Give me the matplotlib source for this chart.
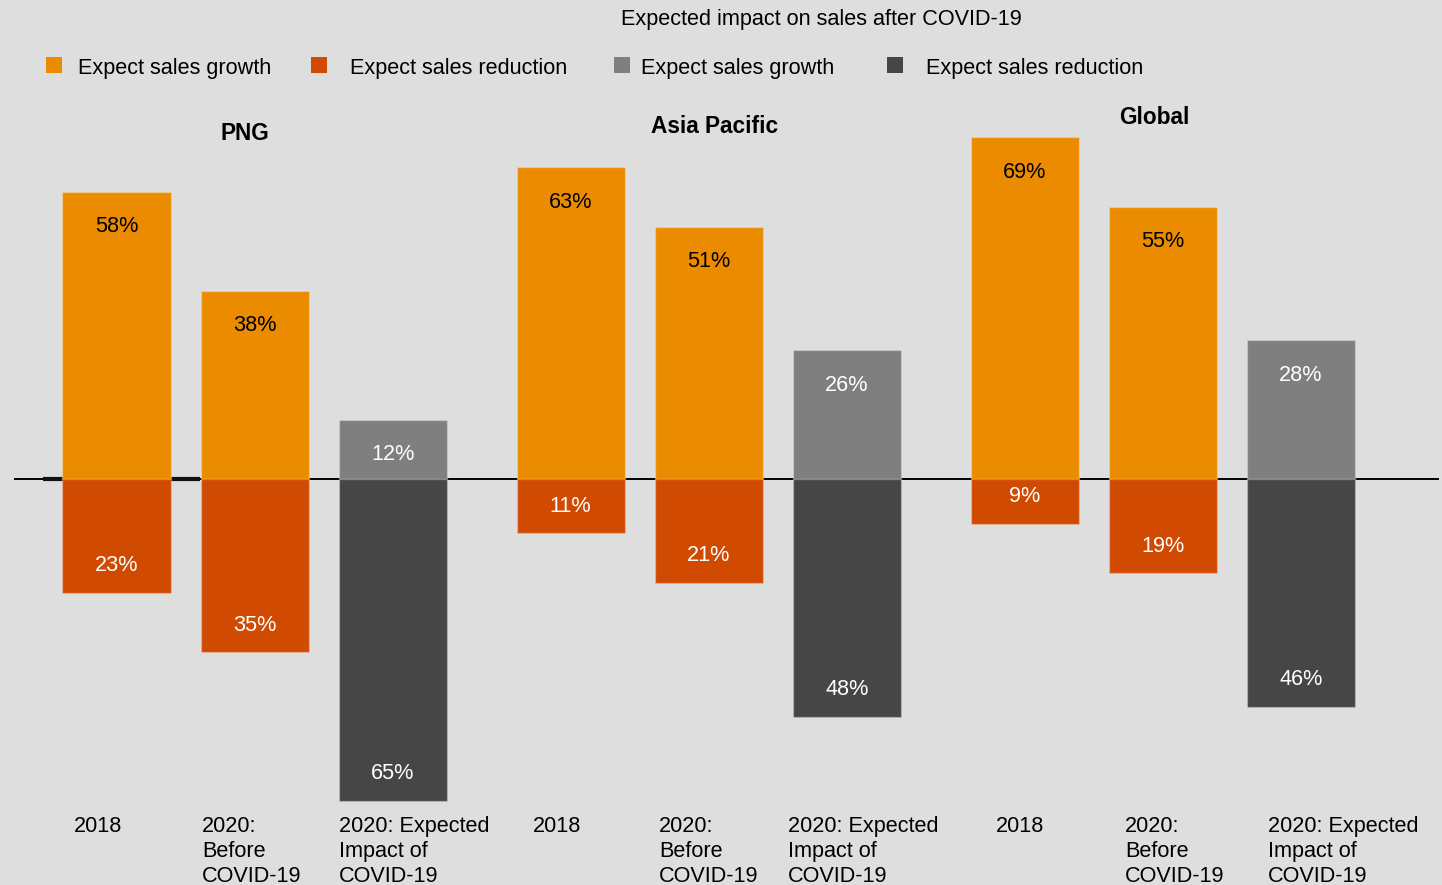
import matplotlib
matplotlib.use("Agg")
import matplotlib.pyplot as plt
from matplotlib.patches import Rectangle

plt.rcParams["font.family"] = ["Liberation Sans", "DejaVu Sans"]

# ---- data -------------------------------------------------------------
title = "Expected impact on sales after COVID-19"
regions = ["PNG", "Asia Pacific", "Global"]
periods = ["2018", "2020:\nBefore\nCOVID-19", "2020: Expected\nImpact of\nCOVID-19"]
growth_pct = [[58, 38, 12], [63, 51, 26], [69, 55, 28]]
reduction_pct = [[23, 35, 65], [11, 21, 48], [9, 19, 46]]
legend_labels = ["Expect sales growth", "Expect sales reduction",
                 "Expect sales growth", "Expect sales reduction"]

# ---- style ------------------------------------------------------------
ORANGE, RED, GREY, DARK = "#EB8C00", "#D04A02", "#7F7F7F", "#464646"
BG = "#DEDEDE"
growth_colors = [ORANGE, ORANGE, GREY]
reduction_colors = [RED, RED, DARK]
growth_text = ["black", "black", "white"]

W, H, DPI = 1442, 885, 100
FS = 15.6

# layout (pixels)
step_px = 138.25          # distance between bar centres inside a group
group_step = 454 / step_px
first_center_px = 116.5
bar_width = 108 / step_px
baseline_px = 479          # from top
px_per_pct = 4.95
line_step_px = 25

fig = plt.figure(figsize=(W / DPI, H / DPI), dpi=DPI, facecolor=BG)
ax = fig.add_axes([0, 0, 1, 1])
ax.set_facecolor(BG)
ax.set_xlim(-first_center_px / step_px, (W - first_center_px) / step_px)
ax.set_ylim(-(H - baseline_px) / px_per_pct, baseline_px / px_per_pct)
ax.axis("off")


def fx(px):
    return px / W


def fy(py):
    return 1 - py / H


# zero line
ax.axhline(0, xmin=fx(15), xmax=fx(1438), color="black", lw=1.4, zorder=1)
ax.plot([(43 - first_center_px) / step_px, (200 - first_center_px) / step_px],
        [0, 0], color="#111111", lw=3, zorder=1, solid_capstyle="butt")

# bars and value labels
for g, region in enumerate(regions):
    xs = [g * group_step + i for i in range(len(periods))]
    ax.bar(xs, growth_pct[g], width=bar_width, color=growth_colors,
           edgecolor=(1, 1, 1, 0.25), linewidth=1, zorder=2)
    ax.bar(xs, [-v for v in reduction_pct[g]], width=bar_width,
           color=reduction_colors, edgecolor=(1, 1, 1, 0.25), linewidth=1, zorder=2)
    for i, x in enumerate(xs):
        gv = growth_pct[g][i]
        rv = reduction_pct[g][i]
        ax.annotate(f"{gv}%", xy=(x, gv), xytext=(0, -35), textcoords="offset pixels",
                    ha="center", va="center", fontsize=FS, color=growth_text[i], zorder=3)
        ax.annotate(f"{rv}%", xy=(x, -rv), xytext=(0, 27), textcoords="offset pixels",
                    ha="center", va="center", fontsize=FS, color="white", zorder=3)

# title
fig.text(fx(821.5), fy(25), title, ha="center", va="baseline", fontsize=FS)

# legend
legend_square_px = [46, 311, 614, 887]
legend_text_px = [78, 350, 641, 926]
legend_colors = [ORANGE, RED, GREY, DARK]
for sx, tx, lab, col in zip(legend_square_px, legend_text_px, legend_labels, legend_colors):
    fig.add_artist(Rectangle((fx(sx), fy(73)), 16 / W, 16 / H,
                             transform=fig.transFigure, facecolor=col, edgecolor="none"))
    fig.text(fx(tx), fy(74), lab, ha="left", va="baseline", fontsize=FS)

# region headings
heading_px = [(245, 140), (714.5, 133), (1154, 124)]
for (hx, hy), region in zip(heading_px, regions):
    fig.text(fx(hx), fy(hy), region, ha="center", va="baseline",
             fontsize=16.3, fontweight="bold")

# period labels under each bar, one text per line so every label starts
# on the same first baseline
period_x_px = [[73.5, 202, 339], [532.5, 659, 788], [996, 1125, 1268]]
for g in range(len(regions)):
    for i, lab in enumerate(periods):
        for k, line in enumerate(lab.split("\n")):
            fig.text(fx(period_x_px[g][i]), fy(832 + k * line_step_px), line,
                     ha="left", va="baseline", fontsize=FS)

fig.savefig("out.png", dpi=DPI, facecolor=BG)
